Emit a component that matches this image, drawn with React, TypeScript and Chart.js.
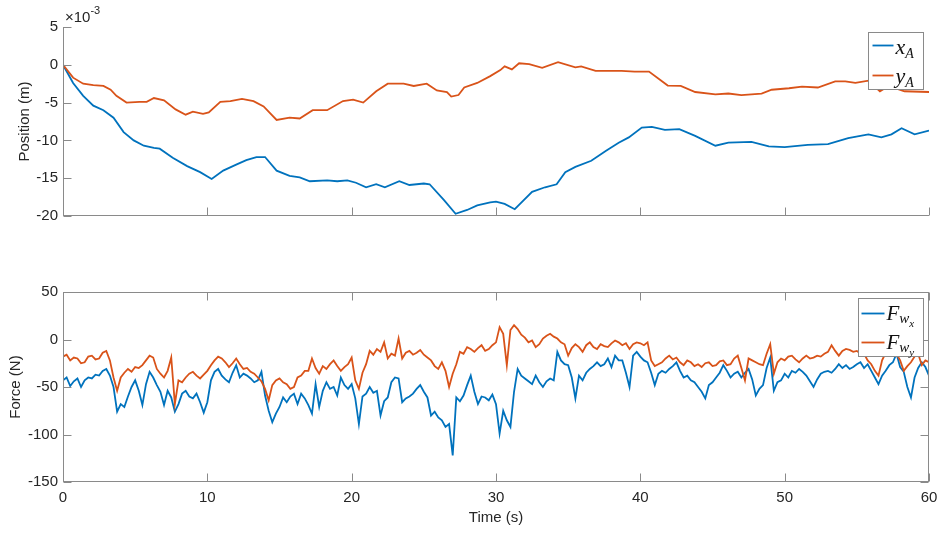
import React, { useEffect, useRef } from 'react';
import { Chart, registerables } from 'chart.js';
Chart.register(...registerables);

// ---------- data ----------
// Position (values in units of 1e-3 m)
const xATime = [0,0.7,1.4,2.1,2.8,3.5,4.2,4.9,5.6,6.3,6.7,7.6,8.6,9.5,10.3,11.1,12.0,12.7,13.4,14.0,14.8,15.7,16.4,17.1,18.3,19.0,19.7,20.3,21.0,21.7,22.3,23.3,24.0,25.0,25.4,26.4,27.2,28.0,28.7,29.6,30.0,30.6,31.3,32.5,33.4,34.2,34.8,35.5,36.6,37.6,38.5,39.2,40.1,40.8,41.7,42.7,43.8,45.2,46.1,47.7,48.9,50.0,51.6,53.0,54.4,55.8,56.7,57.4,58.1,59.0,60.0];
const xA = [0,-2.4,-4.1,-5.4,-6.0,-7.0,-8.9,-10.0,-10.7,-11.0,-11.1,-12.3,-13.4,-14.2,-15.1,-14.0,-13.2,-12.6,-12.2,-12.2,-14.0,-14.7,-14.9,-15.4,-15.3,-15.4,-15.3,-15.6,-16.2,-15.8,-16.2,-15.4,-15.9,-15.7,-15.8,-17.9,-19.7,-19.2,-18.6,-18.2,-18.1,-18.4,-19.1,-16.8,-16.2,-15.8,-14.2,-13.5,-12.7,-11.4,-10.3,-9.6,-8.3,-8.2,-8.6,-8.5,-9.4,-10.7,-10.3,-10.2,-10.8,-10.9,-10.6,-10.5,-9.7,-9.2,-9.6,-9.2,-8.4,-9.2,-8.7];
const yATime = [0,0.7,1.4,2.1,2.8,3.3,3.7,4.4,5.3,5.8,6.3,7.0,7.8,8.5,9.0,9.7,10.1,10.9,11.6,12.4,13.2,13.9,14.8,15.7,16.4,17.3,18.3,19.4,20.1,20.8,21.7,22.5,23.6,24.3,25.2,25.9,26.6,26.9,27.4,27.8,28.7,29.6,30.3,30.6,31.1,31.6,32.3,33.2,34.3,35.5,35.9,36.9,38.7,39.6,40.6,41.9,42.8,43.8,45.2,46.1,47.0,48.4,49.1,50.3,51.2,52.3,53.5,54.2,54.9,55.8,56.6,57.2,58.3,60.0];
const yA = [0,-1.7,-2.5,-2.7,-2.8,-3.3,-4.1,-5.0,-4.9,-4.9,-4.4,-4.7,-5.9,-6.6,-6.2,-6.5,-6.3,-4.9,-4.8,-4.5,-4.8,-5.5,-7.3,-7.0,-7.1,-6.0,-6.0,-4.8,-4.6,-5.0,-3.5,-2.5,-2.5,-2.8,-2.5,-3.4,-3.6,-4.2,-4.0,-3.0,-2.4,-1.5,-0.7,-0.2,-0.6,0.2,0.1,-0.4,0.35,-0.35,-0.2,-0.8,-0.8,-0.9,-0.9,-2.75,-2.8,-3.6,-3.9,-3.8,-4.0,-3.8,-3.3,-3.1,-2.9,-3.0,-2.2,-2.2,-2.4,-2.1,-3.5,-2.8,-3.5,-3.6];

// Force (N), sampled every FORCE_DT seconds from 0 to 60 s
const FORCE_DT = 0.25;
const Fwx = [
  -43,-40,-49,-44,-41,-50,-43,-40,-41,-37,-38,-33,-31,-38,-50,-76,-68,-71,-60,-50,
  -43,-54,-69,-47,-34,-40,-48,-55,-69,-54,-61,-76,-68,-57,-54,-60,-62,-57,-66,-77,
  -66,-43,-34,-31,-38,-42,-45,-35,-27,-40,-36,-38,-41,-45,-43,-34,-59,-75,-87,-78,
  -71,-61,-66,-60,-57,-68,-57,-62,-69,-78,-47,-71,-54,-45,-52,-50,-59,-40,-48,-52,
  -47,-62,-89,-60,-57,-50,-56,-54,-80,-65,-61,-45,-40,-41,-66,-62,-60,-57,-52,-48,
  -55,-61,-80,-76,-82,-85,-92,-89,-122,-61,-65,-59,-48,-38,-55,-68,-60,-61,-64,-58,
  -68,-99,-75,-85,-92,-55,-31,-38,-41,-44,-47,-38,-45,-50,-44,-41,-43,-13,-22,-26,
  -27,-40,-62,-38,-43,-35,-31,-28,-24,-28,-26,-20,-29,-17,-22,-22,-35,-50,-17,-13,
  -18,-22,-24,-35,-48,-36,-33,-35,-31,-28,-24,-33,-40,-38,-43,-45,-50,-55,-62,-48,
  -45,-40,-35,-27,-33,-40,-36,-34,-40,-35,-31,-42,-59,-52,-48,-30,-19,-54,-45,-43,
  -36,-40,-33,-35,-31,-34,-38,-44,-50,-42,-36,-34,-33,-35,-31,-26,-30,-27,-31,-29,
  -26,-24,-30,-26,-33,-40,-47,-38,-33,-27,-24,-15,-29,-34,-50,-61,-40,-30,-24,-29,
  -38
];
const Fwy = [
  -18,-16,-22,-19,-20,-25,-24,-18,-17,-21,-20,-14,-12,-22,-40,-54,-40,-35,-31,-34,
  -29,-30,-27,-22,-17,-19,-31,-36,-40,-33,-19,-68,-43,-45,-40,-36,-34,-38,-41,-37,
  -33,-27,-22,-18,-20,-24,-29,-25,-20,-26,-31,-30,-34,-36,-40,-44,-52,-64,-48,-43,
  -41,-45,-47,-52,-50,-40,-38,-33,-33,-20,-30,-36,-28,-31,-26,-22,-28,-33,-29,-26,
  -19,-43,-52,-35,-26,-12,-16,-10,-13,-3,-20,-15,-17,1,-20,-14,-12,-16,-14,-11,
  -16,-19,-22,-28,-31,-24,-33,-50,-36,-26,-13,-15,-8,-10,-13,-9,-6,-12,-10,-6,
  -3,13,6,-27,10,15,11,5,2,-3,-1,-8,-5,1,4,6,3,1,-3,-5,
  -17,-9,-5,-8,-13,-6,-3,-8,-10,-5,-7,-8,-4,-1,-3,-6,-4,-10,-5,-3,
  -4,-6,-3,-22,-28,-26,-24,-20,-17,-21,-19,-24,-27,-22,-24,-28,-26,-29,-25,-24,
  -28,-27,-23,-22,-27,-26,-20,-17,-30,-43,-20,-22,-24,-26,-27,-15,-5,-36,-24,-20,
  -22,-18,-17,-21,-24,-20,-17,-20,-19,-17,-18,-15,-13,-6,-12,-17,-12,-10,-11,-13,
  -12,-15,-15,-22,-26,-33,-38,-22,-14,-8,-12,-15,-22,-33,-28,-24,-18,-15,-27,-22,
  -24
];

const timeTicks = [0, 10, 20, 30, 40, 50, 60];
const posTicks = [5, 0, -5, -10, -15, -20];
const forceTicks = [50, 0, -50, -100, -150];

// ---------- styles ----------
const BLUE = '#0072BD';
const RED = '#D95319';
const AXIS = '#8a8a8a';
const TEXT = '#262626';
const SANS = '"Liberation Sans", Arial, sans-serif';
const SERIF = '"Liberation Serif", "Times New Roman", serif';

type Part = { t: string; size: number; dy: number };

function drawMath(ctx: CanvasRenderingContext2D, x: number, y: number, parts: Part[]) {
  let cx = x;
  for (const p of parts) {
    ctx.font = `italic ${p.size}px ${SERIF}`;
    ctx.fillText(p.t, cx, y + p.dy);
    cx += ctx.measureText(p.t).width;
  }
}

type LegendCfg = {
  dx0: number; dx1: number; dy0: number; dy1: number; // relative to chartArea right/top
  entries: { color: string; dy: number; textDy: number; parts: Part[] }[];
  lineX0: number; lineX1: number; textX: number;
};

function axesPlugin(id: string, opts: { box: boolean; xTicks: number[]; yTicks: number[]; legend: LegendCfg; exponent?: boolean }) {
  return {
    id,
    afterDatasetsDraw(chart: any) {
      const { ctx, chartArea: a, scales } = chart;
      const xs = scales.x, ys = scales.y;
      ctx.save();
      ctx.strokeStyle = AXIS;
      ctx.lineWidth = 1;
      ctx.beginPath();
      const L = Math.round(a.left) + 0.5;
      const B = Math.round(a.bottom) - 0.5;
      const R = Math.round(a.right) - 0.5;
      const T = Math.round(a.top) + 0.5;
      ctx.moveTo(L, Math.round(a.top)); ctx.lineTo(L, Math.round(a.bottom));
      ctx.moveTo(Math.round(a.left), B); ctx.lineTo(Math.round(a.right), B);
      if (opts.box) {
        ctx.moveTo(Math.round(a.left), T); ctx.lineTo(Math.round(a.right), T);
        ctx.moveTo(R, Math.round(a.top)); ctx.lineTo(R, Math.round(a.bottom));
      }
      const tl = 8;
      for (const v of opts.xTicks) {
        const px = Math.round(xs.getPixelForValue(v)) + 0.5;
        ctx.moveTo(px, B); ctx.lineTo(px, B - tl);
        if (opts.box) { ctx.moveTo(px, T); ctx.lineTo(px, T + tl); }
      }
      for (const v of opts.yTicks) {
        const py = Math.round(ys.getPixelForValue(v)) + 0.5;
        ctx.moveTo(L, py); ctx.lineTo(L + tl, py);
        if (opts.box) { ctx.moveTo(R, py); ctx.lineTo(R - tl, py); }
      }
      ctx.stroke();

      if (opts.exponent) {
        ctx.fillStyle = TEXT;
        ctx.textBaseline = 'alphabetic';
        ctx.textAlign = 'left';
        ctx.font = `15px ${SANS}`;
        ctx.fillText('\u00d710', a.left + 2, a.top - 5);
        const w = ctx.measureText('\u00d710').width;
        ctx.font = `11px ${SANS}`;
        ctx.fillText('-3', a.left + 2 + w, a.top - 13);
      }

      // legend
      const lg = opts.legend;
      const x0 = Math.round(a.right - lg.dx0) + 0.5;
      const x1 = Math.round(a.right - lg.dx1) + 0.5;
      const y0 = Math.round(a.top + lg.dy0) + 0.5;
      const y1 = Math.round(a.top + lg.dy1) + 0.5;
      ctx.fillStyle = '#ffffff';
      ctx.fillRect(x0, y0, x1 - x0, y1 - y0);
      ctx.strokeStyle = AXIS;
      ctx.lineWidth = 1;
      ctx.strokeRect(x0, y0, x1 - x0, y1 - y0);
      for (const e of lg.entries) {
        ctx.strokeStyle = e.color;
        ctx.lineWidth = 1.8;
        ctx.beginPath();
        ctx.moveTo(x0 + lg.lineX0, y0 + e.dy);
        ctx.lineTo(x0 + lg.lineX1, y0 + e.dy);
        ctx.stroke();
        ctx.fillStyle = '#111';
        ctx.textAlign = 'left';
        ctx.textBaseline = 'alphabetic';
        drawMath(ctx, x0 + lg.textX, y0 + e.textDy, e.parts);
      }
      ctx.restore();
    },
  };
}

const tickFont = { family: SANS, size: 15 };

function lineDs(label: string, pts: { x: number; y: number }[], color: string, order: number) {
  return {
    label,
    data: pts,
    borderColor: color,
    backgroundColor: color,
    borderWidth: 1.8,
    pointRadius: 0,
    tension: 0,
    fill: false,
    order,
  };
}

export default function App() {
  const topRef = useRef<HTMLCanvasElement>(null);
  const botRef = useRef<HTMLCanvasElement>(null);

  useEffect(() => {
    const xAPts = xATime.map((t, i) => ({ x: t, y: xA[i] }));
    const yAPts = yATime.map((t, i) => ({ x: t, y: yA[i] }));
    const fxPts = Fwx.map((v, i) => ({ x: i * FORCE_DT, y: v }));
    const fyPts = Fwy.map((v, i) => ({ x: i * FORCE_DT, y: v }));

    const topLegend: LegendCfg = {
      dx0: 61, dx1: 6, dy0: 5, dy1: 62,
      lineX0: 4, lineX1: 25, textX: 27,
      entries: [
        { color: BLUE, dy: 13, textDy: 21, parts: [{ t: 'x', size: 22, dy: 0 }, { t: 'A', size: 14, dy: 4 }] },
        { color: RED, dy: 43, textDy: 50, parts: [{ t: 'y', size: 22, dy: 0 }, { t: 'A', size: 14, dy: 4 }] },
      ],
    };
    const botLegend: LegendCfg = {
      dx0: 71, dx1: 6, dy0: 6, dy1: 64,
      lineX0: 3, lineX1: 26, textX: 28,
      entries: [
        { color: BLUE, dy: 15, textDy: 21, parts: [{ t: 'F', size: 21, dy: 0 }, { t: 'w', size: 15, dy: 3 }, { t: 'x', size: 11, dy: 7 }] },
        { color: RED, dy: 44, textDy: 50, parts: [{ t: 'F', size: 21, dy: 0 }, { t: 'w', size: 15, dy: 3 }, { t: 'y', size: 11, dy: 7 }] },
      ],
    };

    const fitX = (h: number) => (s: any) => { s.height = h; s.paddingLeft = 0; s.paddingRight = 0; };

    const c1 = new Chart(topRef.current!, {
      type: 'line',
      data: { datasets: [lineDs('x_A', xAPts, BLUE, 1), lineDs('y_A', yAPts, RED, 0)] as any },
      options: {
        animation: false,
        responsive: false,
        maintainAspectRatio: false,
        layout: { padding: { top: 27, right: 9, left: 0, bottom: 0 } },
        plugins: { legend: { display: false }, tooltip: { enabled: false } },
        scales: {
          x: {
            type: 'linear', min: 0, max: 60,
            ticks: { display: false, stepSize: 10 },
            grid: { display: false, drawTicks: false },
            border: { display: false },
            afterFit: fitX(14),
          },
          y: {
            type: 'linear', min: -20, max: 5,
            ticks: { stepSize: 5, padding: 5, color: TEXT, font: tickFont },
            grid: { display: false, drawTicks: false },
            border: { display: false },
            title: { display: true, text: 'Position (m)', color: TEXT, font: tickFont, padding: { top: 16, bottom: 0 } },
            afterFit: (s: any) => { s.width = 63; s.paddingTop = 0; s.paddingBottom = 0; },
          },
        },
      } as any,
      plugins: [axesPlugin('axesTop', { box: false, xTicks: timeTicks, yTicks: posTicks, legend: topLegend, exponent: true })],
    });

    const c2 = new Chart(botRef.current!, {
      type: 'line',
      data: { datasets: [lineDs('F_wx', fxPts, BLUE, 1), lineDs('F_wy', fyPts, RED, 0)] as any },
      options: {
        animation: false,
        responsive: false,
        maintainAspectRatio: false,
        layout: { padding: { top: 62, right: 9, left: 0, bottom: 0 } },
        plugins: { legend: { display: false }, tooltip: { enabled: false } },
        scales: {
          x: {
            type: 'linear', min: 0, max: 60,
            ticks: { stepSize: 10, padding: 7, color: TEXT, font: tickFont, maxRotation: 0 },
            grid: { display: false, drawTicks: false },
            border: { display: false },
            title: { display: true, text: 'Time (s)', color: TEXT, font: tickFont, padding: { top: 0, bottom: 7 } },
            afterFit: fitX(52),
          },
          y: {
            type: 'linear', min: -150, max: 50,
            ticks: { stepSize: 50, padding: 5, color: TEXT, font: tickFont },
            grid: { display: false, drawTicks: false },
            border: { display: false },
            title: { display: true, text: 'Force (N)', color: TEXT, font: tickFont, padding: { top: 7, bottom: 0 } },
            afterFit: (s: any) => { s.width = 63; s.paddingTop = 0; s.paddingBottom = 0; },
          },
        },
      } as any,
      plugins: [axesPlugin('axesBot', { box: true, xTicks: timeTicks, yTicks: forceTicks, legend: botLegend })],
    });

    return () => { c1.destroy(); c2.destroy(); };
  }, []);

  return (
    <div style={{ position: 'fixed', left: 0, top: 0, width: 938, height: 534, background: '#ffffff' }}>
      <canvas ref={topRef} width={938} height={230} style={{ position: 'absolute', left: 0, top: 0 }} />
      <canvas ref={botRef} width={938} height={304} style={{ position: 'absolute', left: 0, top: 230 }} />
    </div>
  );
}
